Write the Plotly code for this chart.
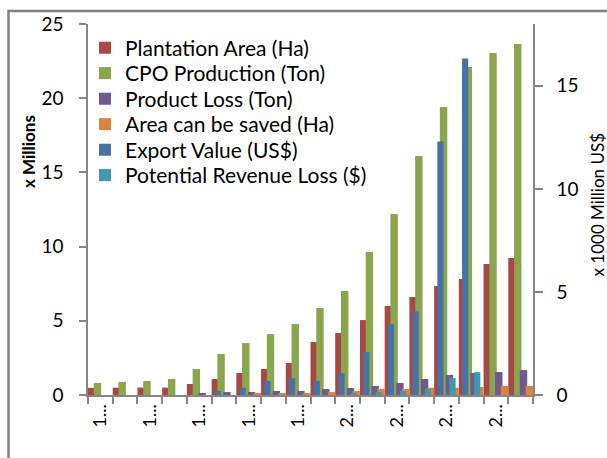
import plotly.graph_objects as go

# ---- data ----
years = [str(y) for y in range(1990, 2008)]
tick_text = ["1...", "", "1...", "", "1...", "", "1...", "", "1...", "",
             "2...", "", "2...", "", "2...", "", "2...", ""]

plantation_area = [0.48, 0.49, 0.50, 0.50, 0.74, 1.08, 1.48, 1.75, 2.16, 3.57,
                   4.18, 5.05, 6.00, 6.60, 7.34, 7.82, 8.83, 9.23]
cpo_production = [0.81, 0.88, 0.94, 1.08, 1.75, 2.76, 3.50, 4.10, 4.78, 5.86,
                  7.00, 9.64, 12.20, 16.10, 19.40, 22.10, 23.05, 23.65]
product_loss = [None, None, None, None, 0.13, 0.20, 0.20, 0.27, 0.27, 0.40,
                0.47, 0.61, 0.81, 1.08, 1.35, 1.48, 1.55, 1.68]
area_saved = [None, None, None, None, None, None, 0.13, 0.13, 0.13, 0.20,
              0.27, 0.40, 0.40, 0.49, 0.49, 0.54, 0.61, 0.61]
export_value = [None, None, None, None, None, 0.20, 0.35, 0.68, 0.82, 0.68,
                1.06, 2.08, 3.43, 4.06, 12.30, 16.33, None, None]
revenue_loss = [None, None, None, None, None, None, None, None, None, None,
                0.10, 0.14, 0.19, 0.29, 0.82, 1.11, None, None]

FONT = "Lato"
AXIS_COLOR = "#868686"

L, R, T, B = 88, 74, 24, 63
W, H = 607, 458
pw, ph = W - L - R, H - T - B


def px(x):
    return (x - L) / pw


def py(y):
    return (H - B - y) / ph


fig = go.Figure()

primary = [
    ("Plantation Area (Ha)", plantation_area, "#AA4643", -0.50),
    ("CPO Production (Ton)", cpo_production, "#89A54E", -0.267),
    ("Product Loss (Ton)", product_loss, "#71588F", -0.034),
    ("Area can be saved (Ha)", area_saved, "#DB843D", 0.199),
]
secondary = [
    ("Export Value (US$)", export_value, "#4572A7", -0.37),
    ("Potential Revenue Loss ($)", revenue_loss, "#4198AF", 0.12),
]

legend_names = ["legend", "legend2", "legend3", "legend4", "legend5", "legend6"]
row_y = [48, 73.5, 99, 124.5, 150, 175.5]

i = 0
for name, vals, color, off in primary:
    fig.add_trace(go.Bar(x=years, y=vals, name=name, marker_color=color,
                         marker_line_width=0, width=0.30, offset=off,
                         yaxis="y", legend=legend_names[i]))
    i += 1
for name, vals, color, off in secondary:
    fig.add_trace(go.Bar(x=years, y=vals, name=name, marker_color=color,
                         marker_line_width=0, width=0.25, offset=off,
                         yaxis="y2", legend=legend_names[i]))
    i += 1

legend_layout = {}
for ln, yy in zip(legend_names, row_y):
    legend_layout[ln] = dict(x=px(85), xanchor="left", y=py(yy),
                             yanchor="middle", bgcolor="rgba(0,0,0,0)",
                             borderwidth=0,
                             font=dict(family=FONT, size=21, color="black"))

fig.update_layout(
    width=W, height=H,
    margin=dict(l=L, r=R, t=T, b=B, pad=0),
    barmode="overlay",
    plot_bgcolor="white", paper_bgcolor="white",
    font=dict(family=FONT, size=18, color="black"),
    showlegend=True,
    xaxis=dict(type="category", categoryorder="array", categoryarray=years,
               range=[-0.5, 17.5], tickmode="array", tickvals=years,
               ticktext=tick_text, tickangle=-90, tickson="boundaries",
               ticks="outside", ticklen=7, tickwidth=1.5, tickcolor=AXIS_COLOR,
               showline=True, linecolor=AXIS_COLOR, linewidth=2,
               showgrid=False, zeroline=False,
               tickfont=dict(family=FONT, size=18)),
    yaxis=dict(range=[0, 25], tickvals=[0, 5, 10, 15, 20, 25],
               ticks="outside", ticklen=7, tickwidth=1.5, tickcolor=AXIS_COLOR,
               showline=True, linecolor=AXIS_COLOR, linewidth=1.5,
               showgrid=False, zeroline=False, ticklabelstandoff=12,
               tickfont=dict(family=FONT, size=19)),
    yaxis2=dict(range=[0, 18], tickvals=[0, 5, 10, 15], overlaying="y",
                side="right", ticks="outside", ticklen=8, tickwidth=1.5,
                tickcolor=AXIS_COLOR, showline=True, linecolor=AXIS_COLOR,
                linewidth=1.5, showgrid=False, zeroline=False,
                ticklabelstandoff=10,
                tickfont=dict(family=FONT, size=19)),
    annotations=[
        dict(text="<b>x Millions</b>", x=px(28), y=py(152), xref="paper",
             yref="paper", xanchor="center", yanchor="middle",
             showarrow=False, textangle=-90,
             font=dict(family=FONT, size=17)),
        dict(text="x 1000 Million US$", x=px(597.5), y=py(205), xref="paper",
             yref="paper", xanchor="center", yanchor="middle",
             showarrow=False, textangle=-90,
             font=dict(family=FONT, size=17)),
    ],
    shapes=[
        dict(type="rect", xref="paper", yref="paper",
             x0=px(8.5), x1=px(640), y0=py(11), y1=py(490),
             line=dict(color="#808080", width=2.5), layer="below"),
    ],
    **legend_layout,
)

fig.write_html("out.html")
